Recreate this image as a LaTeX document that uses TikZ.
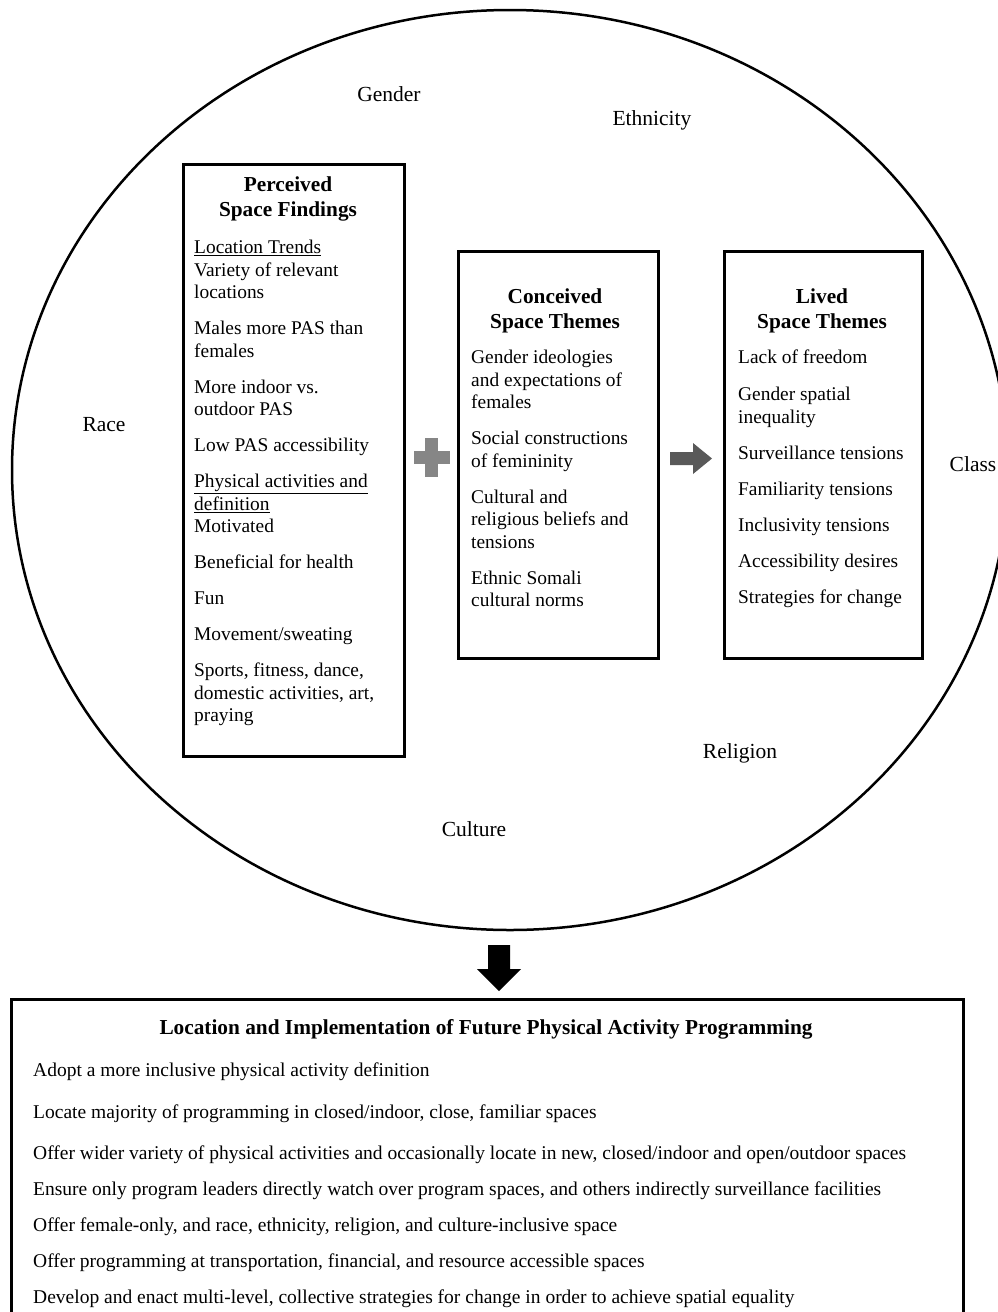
\documentclass[tikz,border=0pt]{standalone}
\usepackage{fontspec}
\setmainfont{Liberation Serif}
\usepackage{xcolor}
\usetikzlibrary{positioning,calc}

\begin{document}
\begin{tikzpicture}[x=1pt, y=-1pt,
        frame/.style={draw, line width=2.6pt, inner sep=0pt, anchor=north west},
        body/.style={anchor=north west, align=left, inner sep=0pt, font=\fontsize{19.4}{22.5}\selectfont,
            execute at begin node=\rule{0pt}{16pt}},
        head/.style={anchor=north, align=center, inner sep=0pt, font=\fontsize{21.3}{25}\selectfont\bfseries,
            execute at begin node=\rule{0pt}{16pt}},
        context/.style={inner sep=0pt, font=\fontsize{21.5}{24}\selectfont}]
        \useasboundingbox (0, 0) rectangle (997, 1312);
        \draw [line width=2.5pt] (510, 470) ellipse [x radius=498, y radius=460];
        \foreach \name/\x/\y in {Gender/389/94, Ethnicity/652/120, Race/104/425, Class/973/464, Religion/740/753, Culture/474/829}{
            \node [context] (\name) at (\x, \y) {\name};
        }
        % the three space boxes
        \node [frame, minimum width=221pt, minimum height=592pt] (perceived) at (182, 163) {};
        \node [frame, minimum width=200pt, minimum height=407pt] (conceived) at (457, 250) {};
        \node [frame, minimum width=198pt, minimum height=407pt] (lived) at (723, 250) {};
        \node [head] (perceivedhead) at (288, 177) {Perceived\\Space Findings};
        \node [head] (conceivedhead) at (555, 289) {Conceived\\Space Themes};
        \node [head] (livedhead) at (822, 289) {Lived\\Space Themes};
        \node [body] (perceivedtext) at (194, 240) {\underline{Location Trends}\\Variety of relevant\\locations\\[13.5pt]
            Males more PAS than\\females\\[13.5pt]More indoor vs.\\outdoor PAS\\[13.5pt]Low PAS accessibility\\[13.5pt]
            \underline{Physical activities and}\\\underline{definition}\\Motivated\\[13.5pt]Beneficial for health\\[13.5pt]
            Fun\\[13.5pt]Movement/sweating\\[13.5pt]Sports, fitness, dance,\\domestic activities, art,\\praying};
        \node [body] (conceivedtext) at (471, 350) {Gender ideologies\\and expectations of\\females\\[13.5pt]
            Social constructions\\of femininity\\[13.5pt]Cultural and\\religious beliefs and\\tensions\\[13.5pt]
            Ethnic Somali\\cultural norms};
        \node [body] (livedtext) at (738, 350) {Lack of freedom\\[14.5pt]Gender spatial\\inequality\\[13.5pt]
            Surveillance tensions\\[13.5pt]Familiarity tensions\\[13.5pt]Inclusivity tensions\\[13.5pt]
            Accessibility desires\\[13.5pt]Strategies for change};
        % plus and arrows
        \fill [gray!95] (425, 438) rectangle (438, 477);
        \fill [gray!95] (414, 451) rectangle (450, 464);
        \fill [black!65] (670, 452) -- (693, 452) -- (693, 443) -- (712, 458.5) -- (693, 474) -- (693, 465) -- (670, 465) -- cycle;
        \fill [black] (488, 945) -- (510, 945) -- (510, 969) -- (521, 969) -- (499, 991) -- (477, 969) -- (488, 969) -- cycle;
        % programming box
        \node [frame, minimum width=952pt, minimum height=340pt] (programming) at (10, 998) {};
        \node [head] (programminghead) at (486, 1018) {Location and Implementation of Future Physical Activity Programming};
        \node [body, font=\fontsize{19.5}{22.5}\selectfont] (programmingtext) at (33, 1063) {Adopt a more inclusive physical activity definition\\[19pt]
            Locate majority of programming in closed/indoor, close, familiar spaces\\[19pt]
            Offer wider variety of physical activities and occasionally locate in new, closed/indoor and open/outdoor spaces\\[13.5pt]
            Ensure only program leaders directly watch over program spaces, and others indirectly surveillance facilities\\[13.5pt]
            Offer female-only, and race, ethnicity, religion, and culture-inclusive space\\[13.5pt]
            Offer programming at transportation, financial, and resource accessible spaces\\[13.5pt]
            Develop and enact multi-level, collective strategies for change in order to achieve spatial equality};
\end{tikzpicture}
\end{document}
